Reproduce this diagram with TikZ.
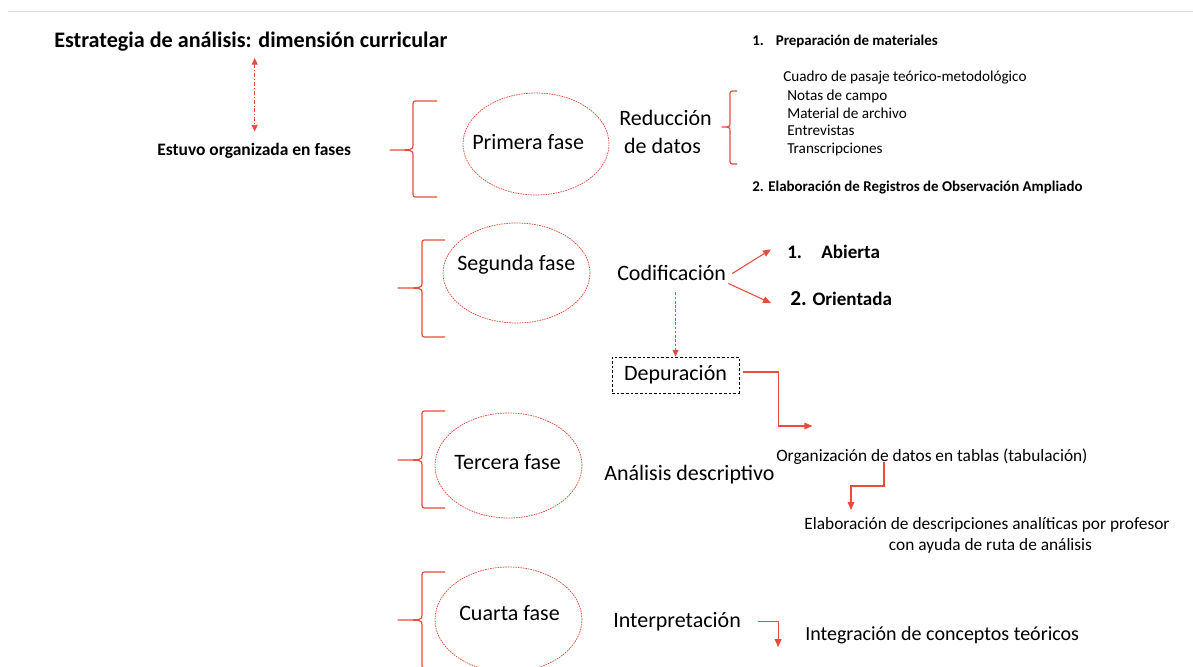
\documentclass[tikz,border=0pt]{standalone}
\usepackage{fontspec}
\setmainfont{Carlito}
\usetikzlibrary{arrows.meta,shapes.geometric,calc}
\definecolor{myred}{RGB}{231,76,60}
\definecolor{topline}{RGB}{222,222,222}
\newcommand{\phasebrace}[6]{%
\draw[bracestyle] (#4,#5) -- ({#3+5},#5) .. controls (#3,#5) .. (#3,{#5+5}) -- (#3,{#2-5}) .. controls (#3,#2) .. (#1,#2) .. controls (#3,#2) .. (#3,{#2+5}) -- (#3,{#6-5}) .. controls (#3,#6) .. ({#3+5},#6) -- (#4,#6);}
\tikzset{
  lbl/.style={inner sep=0pt, anchor=base west, text=black},
  clbl/.style={inner sep=0pt, anchor=base, text=black},
  bigf/.style={font=\fontsize{16.5}{20}\selectfont},
  listf/.style={font=\fontsize{11.4}{14}\selectfont},
  prepf/.style={font=\bfseries\fontsize{11.2}{13}\selectfont},
  midf/.style={font=\fontsize{13}{16}\selectfont},
  phase/.style={ellipse, draw=myred, line width=0.55pt, dash pattern=on 1.2pt off 0.7pt, inner sep=0pt},
  bracestyle/.style={draw=myred, line width=0.9pt, line join=round},
  arr/.style={draw=myred, line width=0.8pt, -{Triangle[length=6pt,width=5pt]}},
  dashbox/.style={draw=black, line width=0.6pt, dash pattern=on 2pt off 1.5pt, inner sep=0pt, minimum width=95.25pt, minimum height=27pt}
}
\begin{document}
\begin{tikzpicture}[x=0.75pt,y=-0.75pt]
\useasboundingbox (0,0) rectangle (1193,667);
\draw[topline, line width=0.75pt] (8,12) -- (1193,12);

% title and first link
\node[lbl, font=\bfseries\fontsize{16.6}{19}\selectfont] (title) at (54,48) {Estrategia de análisis: dimensión curricular};
\node[lbl, font=\bfseries\fontsize{13.1}{15}\selectfont] (estuvo) at (157,156) {Estuvo organizada en fases};
\draw[draw=myred, line width=0.7pt, dash pattern=on 3pt off 1.5pt on 0.6pt off 1.5pt, {Triangle[length=5pt,width=4.5pt]}-{Triangle[length=5pt,width=4.5pt]}] ($(title.south -| estuvo.north)+(0.5,6)$) -- ($(estuvo.north)+(0.5,-12)$);

% braces
\phasebrace{390}{150}{413}{437}{101}{197}
\phasebrace{398}{288}{422}{445}{240}{337}
\phasebrace{398}{460}{422}{445}{411}{508}
\phasebrace{398}{620}{422}{445}{572}{668}
\phasebrace{722}{127}{730}{737}{91}{164}

% phase ellipses
\node[phase, minimum width=109.5pt, minimum height=76.5pt] (e1) at (536,144) {};
\node[phase, minimum width=110.25pt, minimum height=75pt] (e2) at (516.5,273) {};
\node[phase, minimum width=110.25pt, minimum height=78.75pt] (e3) at (508.5,465.5) {};
\node[phase, minimum width=110.25pt, minimum height=78.75pt] (e4) at (508.5,619.5) {};
\node[lbl, bigf] (t1) at (472,150) {Primera fase};
\node[lbl, bigf] (t2) at (457,270) {Segunda fase};
\node[lbl, bigf] (t3) at (454,469) {Tercera fase};
\node[lbl, bigf] (t4) at (459,620) {Cuarta fase};

% first phase
\node[clbl, bigf] (red1) at (665.5,126) {Reducción};
\node[clbl, bigf] (red2) at (662.5,153) {de datos};
\node[lbl, prepf] (prep) at (752,46) {1.\hspace{9pt}Preparación de materiales};
\node[lbl, listf] (l1) at (783,82) {Cuadro de pasaje teórico-metodológico};
\node[lbl, listf] (l2) at (787,101) {Notas de campo};
\node[lbl, listf] (l3) at (787,118) {Material de archivo};
\node[lbl, listf] (l4) at (787,136) {Entrevistas};
\node[lbl, listf] (l5) at (787,153) {Transcripciones};
\node[lbl, prepf] (reg) at (752,191) {2. Elaboración de Registros de Observación Ampliado};

% second phase
\node[lbl, bigf] (cod) at (617,280) {Codificación};
\node[lbl, font=\bfseries\fontsize{14.3}{17}\selectfont] (abi) at (787,258) {1.\hspace{14.5pt}Abierta};
\node[lbl, font=\bfseries\fontsize{14.3}{17}\selectfont] (ori) at (790,305) {{\fontsize{16}{17}\selectfont 2.} Orientada};
\draw[arr] ($(cod.east)+(6,1)$) -- ($(abi.west)+(-16,-2)$);
\draw[arr] ($(cod.south east)+(2,3)$) -- ($(ori.west)+(-19,5)$);
\node[dashbox, bigf] (dep) at (675.5,375) {Depuración};
\draw[draw=myred, line width=0.7pt, dash pattern=on 2pt off 1.2pt, -{Triangle[length=5pt,width=4.5pt]}] ($(cod.south -| dep.north)+(0,12)$) -- (dep.north);

% third phase
\node[lbl, bigf] (ana) at (604,480) {Análisis descriptivo};
\node[lbl, midf] (org) at (776,461) {Organización de datos en tablas (tabulación)};
\draw[arr] ($(dep.east)+(4,-3)$) -- ++(35,0) |- ++(34,54);
\node[clbl, midf] (elab1) at (987,529) {Elaboración de descripciones analíticas por profesor};
\node[clbl, midf] (elab2) at (990.5,550) {con ayuda de ruta de análisis};
\draw[arr] ($(org.base west)+(108,1)$) |- ++(-33,24) -- ++(0,24);

% fourth phase
\node[lbl, bigf] (int) at (613,627) {Interpretación};
\node[lbl, font=\fontsize{15}{17}\selectfont] (integ) at (805,640) {Integración de conceptos teóricos};
\draw[arr] ($(int.east)+(17,0)$) -| ++(20,26);
\end{tikzpicture}
\end{document}
